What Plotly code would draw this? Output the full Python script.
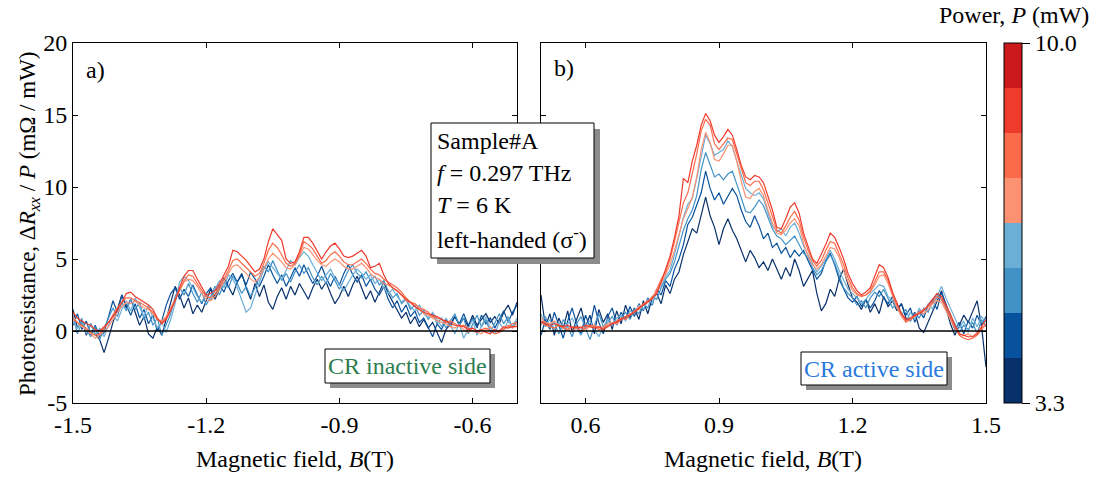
import plotly.graph_objects as go

# ---------------- data ----------------
B_left = [round(-1.50 + 0.01 * i, 2) for i in range(101)]
B_right = [round(0.50 + 0.01 * i, 2) for i in range(101)]

line_colors = ["#08306b", "#08519c", "#4292c6", "#6baed6", "#fc9272", "#fb6a4a", "#ef3b2c"]
cbar_colors = ["#08306b", "#08519c", "#4292c6", "#6baed6", "#fc9272", "#fb6a4a", "#ef3b2c", "#cb181d"]
P_min, P_max = 3.3, 10.0

# panel a) CR inactive side, traces from lowest to highest power
left_navy = [1.5, 0.2, 0.8, -0.3, 0.5, -0.2, -0.6, -1.5, -0.5, 0.6, 1.5, 2.5, 1.6, 2.2, 1.3, 0.4, 1.0, -0.2, -0.5, 0.3,
             -0.3, 0.8, 2.0, 3.1, 2.5, 1.6, 2.3, 1.2, 1.8, 1.3, 2.1, 2.9, 2.2, 3.0, 3.7, 3.1, 2.5, 3.4, 4.0, 3.0,
             2.2, 3.3, 2.4, 3.2, 2.0, 1.5, 2.4, 3.0, 2.2, 3.1, 2.5, 3.3, 2.7, 2.2, 3.0, 3.6, 2.9, 3.4, 2.6, 1.9,
             2.4, 3.1, 2.4, 3.2, 3.8, 3.0, 2.2, 2.8, 2.0, 2.7, 3.4, 2.6, 2.0, 1.4, 0.9, 1.3, 0.5, 1.0, 0.3, 0.8,
             0.2, 0.6, -0.1, -0.8, 0.1, 0.5, 1.0, 0.4, 0.9, 0.3, 1.1, 0.4, 0.8, 1.2, 0.6, 1.0, 0.5, 1.3, 1.8, 1.1,
             2.0]
left_blue = [0.4, 1.2, 0.1, 0.7, -0.3, 0.4, -0.4, -0.1, 1.0, 2.1, 1.3, 2.5, 1.8, 1.1, 1.9, 0.9, 1.5, 0.5, 1.1, 0.0,
             0.7, 1.8, 2.6, 3.0, 2.2, 2.9, 2.4, 3.2, 2.5, 1.9, 2.6, 3.0, 2.4, 3.2, 2.7, 3.5, 4.0, 3.4, 3.9, 3.2,
             4.1, 3.6, 3.1, 3.8, 4.6, 3.9, 3.3, 3.9, 3.1, 3.7, 4.4, 3.8, 4.6, 3.9, 3.3, 3.8, 4.5, 3.7, 3.1, 3.8,
             3.2, 4.0, 4.6, 3.9, 3.4, 3.9, 3.1, 3.6, 2.9, 2.5, 3.1, 2.2, 1.6, 2.1, 1.3, 1.8, 1.0, 1.4, 0.6, 0.9,
             0.2, -0.4, 0.5, 0.1, 0.8, 0.3, 1.0, 0.5, 1.2, 0.4, 0.9, 0.2, 1.1, 0.5, 0.9, 0.2, 0.8, 1.4, 0.6, 1.3,
             1.8]
left_midblue = [1.1, -0.2, 0.6, 0.1, -0.4, 0.3, -0.6, 0.2, 0.9, 1.6, 1.0, 2.0, 1.4, 2.2, 1.5, 2.0, 0.8, 1.3, 0.4, 0.9,
                -0.3, 0.5, 1.2, 2.4, 3.0, 2.5, 3.3, 2.6, 2.0, 2.7, 1.8, 2.4, 3.1, 2.5, 3.4, 3.0, 3.8, 3.3, 2.6, 3.1,
                2.4, 3.0, 3.7, 4.5, 4.1, 4.9, 4.2, 3.5, 4.0, 3.4, 4.1, 4.6, 4.0, 4.4, 3.7, 3.2, 3.8, 3.3, 4.0, 3.5,
                2.9, 3.6, 4.2, 4.6, 4.0, 3.7, 4.1, 3.5, 3.8, 3.2, 3.5, 2.8, 2.3, 2.6, 1.9, 2.2, 1.5, 1.8, 1.1, 1.4,
                0.8, 1.2, 0.5, 0.9, 0.2, 0.7, 1.2, 0.4, 0.9, -0.2, 0.5, 1.1, 0.3, 0.8, -0.1, 0.6, 1.2, 0.5, 1.0, 0.2,
                0.7]
left_lightblue = [0.6, 0.2, 0.9, -0.2, 0.5, -0.3, 0.2, -0.4, 0.4, 1.1, 0.7, 1.5, 2.1, 1.4, 2.3, 1.6, 1.0, 1.8, 0.9, 0.2,
                  0.6, -0.1, 0.8, 1.9, 3.4, 3.8, 3.5, 3.0, 2.4, 2.0, 2.6, 2.1, 2.9, 3.5, 3.0, 3.9, 3.6, 3.0, 2.2, 1.3,
                  1.6, 2.5, 3.4, 4.3, 4.8, 4.4, 4.0, 3.6, 4.2, 4.9, 4.6, 5.1, 5.5, 5.2, 4.6, 4.0, 3.5, 3.9, 4.3, 3.7,
                  3.2, 2.8, 3.4, 3.9, 4.3, 4.0, 3.6, 3.9, 3.3, 3.6, 3.0, 2.6, 2.9, 2.4, 2.0, 2.3, 1.7, 1.4, 1.8, 1.2,
                  0.9, 1.3, 0.8, 0.3, 0.9, 0.4, -0.2, 0.5, -0.5, 0.2, 0.8, -0.3, 0.4, 1.0, 0.2, -0.2, 0.6, 0.1, 0.7, 0.3,
                  0.9]
left_salmon = [1.0, 0.6, 0.3, 0.1, -0.2, -0.5, -0.3, 0.0, 0.3, 0.8, 1.3, 1.7, 2.0, 1.9, 2.1, 1.8, 1.6, 1.5, 1.2, 0.8,
               0.7, 1.0, 1.6, 2.3, 2.9, 3.4, 3.6, 3.5, 3.1, 2.6, 2.2, 2.1, 2.4, 2.9, 3.4, 4.0, 4.5, 4.6, 4.3, 4.0,
               3.6, 3.4, 3.7, 4.4, 5.0, 5.4, 5.1, 4.8, 4.4, 4.3, 4.6, 5.2, 5.8, 5.7, 5.3, 4.9, 4.6, 4.5, 4.8, 5.0,
               4.8, 4.5, 4.3, 4.3, 4.5, 4.7, 4.4, 4.0, 3.7, 3.6, 3.3, 3.2, 3.0, 2.8, 2.5, 2.1, 2.0, 1.7, 1.5, 1.2,
               1.1, 0.9, 0.7, 0.6, 0.5, 0.3, 0.2, 0.4, 0.1, -0.1, 0.2, 0.0, -0.2, 0.1, 0.3, 0.0, -0.1, 0.2, 0.4, 0.2,
               0.5]
left_orange = [0.8, 0.6, 0.4, 0.2, -0.1, -0.3, -0.2, 0.2, 0.6, 1.1, 1.6, 2.0, 2.3, 2.3, 2.1, 2.0, 1.8, 1.6, 1.3, 0.8,
               0.6, 0.9, 1.5, 2.2, 2.9, 3.5, 3.9, 3.8, 3.3, 2.8, 2.4, 2.3, 2.6, 3.1, 3.6, 4.2, 4.9, 5.0, 4.7, 4.4,
               4.1, 3.8, 4.0, 4.7, 5.6, 6.1, 5.8, 5.3, 4.7, 4.5, 4.7, 5.3, 6.2, 6.0, 5.7, 5.2, 4.7, 4.9, 5.3, 5.5,
               5.2, 4.8, 4.6, 4.6, 4.8, 5.0, 4.7, 4.3, 4.0, 3.9, 3.6, 3.4, 3.2, 3.0, 2.7, 2.3, 2.0, 1.9, 1.6, 1.5,
               1.3, 1.0, 0.9, 0.8, 0.6, 0.7, 0.5, 0.3, 0.4, 0.2, 0.0, -0.1, 0.1, 0.2, 0.0, -0.2, -0.1, 0.1, 0.3, 0.5,
               0.6]
left_red = [1.3, 0.9, 0.7, 0.5, 0.4, 0.1, 0.0, 0.3, 0.6, 1.0, 1.5, 2.0, 2.6, 2.7, 2.4, 2.2, 2.0, 1.8, 1.5, 0.9,
            0.5, 0.8, 1.4, 2.1, 3.0, 3.8, 4.2, 4.2, 3.6, 3.0, 2.5, 2.6, 2.8, 3.3, 3.9, 4.5, 5.6, 5.5, 5.2, 4.9,
            4.5, 4.1, 4.3, 5.0, 6.2, 7.1, 6.7, 6.3, 5.0, 4.7, 4.8, 5.5, 6.5, 6.5, 6.1, 5.5, 5.0, 5.5, 5.9, 6.1,
            5.7, 5.2, 5.1, 5.2, 5.4, 5.6, 5.2, 4.4, 4.5, 4.7, 3.9, 3.3, 3.0, 2.8, 2.5, 2.2, 2.0, 1.7, 1.5, 1.3,
            1.2, 1.1, 1.0, 0.8, 0.7, 0.5, 0.4, 0.4, 0.3, 0.1, 0.2, 0.0, 0.1, -0.1, -0.2, 0.1, 0.0, 0.3, 0.2, 0.3,
            0.3]

# panel b) CR active side
right_navy = [2.5, 0.3, 1.2, -0.3, 0.9, 0.2, 1.4, -0.1, 0.8, 1.6, 0.3, 1.1, -0.2, 1.5, 0.6, 1.2, 0.1, 1.4, 0.5, 1.8,
              0.9, 1.6, 0.8, 2.1, 1.2, 2.3, 2.6, 1.9, 3.2, 2.6, 3.6, 4.1, 5.3, 6.2, 7.1, 6.8, 8.0, 9.3, 8.0, 7.2,
              6.0, 7.1, 7.8, 7.0, 6.4, 5.6, 4.8, 5.6, 5.1, 4.4, 4.8, 4.2, 5.0, 4.3, 3.6, 4.4, 3.8, 5.0, 4.2, 3.1,
              3.7, 4.2, 2.6, 1.4, 1.9, 2.9, 2.4, 3.6, 4.3, 3.2, 2.3, 2.0, 1.5, 2.2, 1.3, 1.9, 1.2, 2.4, 1.7, 2.1,
              1.4, 1.9, 0.9, 0.7, 1.3, 0.2, -0.1, 0.6, 1.4, 2.1, 2.8, 1.6, 0.5, -0.3, 0.4, 1.1, 0.6, 1.3, 2.1, 0.3,
              -2.5]
right_blue = [-0.3, 0.8, 0.1, 1.3, 0.4, -0.5, 0.7, 1.6, 0.5, -0.2, 1.1, 0.3, 1.8, 0.6, -0.2, 1.0, 1.6, 0.5, 1.3, 0.8,
              1.7, 1.0, 1.9, 1.4, 2.3, 1.8, 2.9, 2.5, 3.5, 3.1, 4.3, 5.0, 6.0, 7.4, 7.9, 8.8, 9.6, 11.1, 9.9, 9.1,
              9.6, 8.8, 9.4, 9.9, 9.4, 8.4, 7.6, 7.2, 8.0, 7.3, 6.4, 6.8, 5.8, 6.1, 5.4, 5.8, 5.1, 5.6, 5.2, 5.6,
              4.9, 4.3, 3.6, 4.0, 4.9, 5.4, 4.6, 3.6, 3.0, 2.3, 2.0, 2.4, 1.7, 2.2, 1.6, 2.1, 2.8, 2.3, 1.9, 2.4,
              1.5, 1.9, 1.1, 1.6, 0.6, 1.4, 0.9, 1.8, 2.2, 1.5, 2.7, 1.9, 0.9, 0.1, 0.6, -0.2, 0.7, 0.2, 1.1, 0.4,
              1.0]
right_midblue = [0.4, 1.0, 0.2, 0.6, -0.2, 0.8, 0.3, -0.4, 0.5, 1.0, 0.2, -0.6, 0.4, 1.2, 0.3, 0.6, 1.0, 0.4, 0.9, 1.3,
                 0.8, 1.5, 1.2, 1.9, 1.6, 2.4, 2.2, 3.0, 3.6, 4.0, 4.8, 5.9, 7.0, 7.8, 8.4, 9.4, 11.2, 12.4, 11.6, 10.7,
                 10.9, 10.5, 10.9, 11.1, 10.2, 9.2, 8.3, 8.2, 8.6, 9.1, 8.7, 7.9, 7.1, 6.6, 6.4, 6.0, 6.3, 6.6, 6.0, 5.4,
                 5.1, 4.4, 3.9, 4.2, 4.8, 5.3, 4.7, 3.8, 3.0, 2.6, 2.3, 1.8, 2.1, 1.6, 2.3, 2.7, 2.4, 2.9, 2.2, 1.6,
                 1.9, 1.1, 1.5, 0.7, 1.2, 0.9, 1.6, 1.3, 2.1, 2.6, 2.2, 1.7, 1.0, 0.5, -0.1, 0.4, 0.1, 0.6, -0.2, 0.8,
                 0.3]
right_lightblue = [1.2, 0.3, 0.8, 0.1, 0.6, -0.1, 0.5, 0.9, 0.2, -0.3, 0.4, 0.7, 0.1, -0.4, 0.3, 0.8, 0.4, 0.9, 1.1, 0.7,
                   1.4, 1.2, 1.8, 1.5, 2.2, 1.9, 2.8, 3.1, 3.8, 4.2, 5.3, 6.6, 7.9, 8.8, 9.2, 10.6, 12.1, 13.6, 13.0, 12.2,
                   12.4, 12.6, 13.2, 12.8, 11.8, 10.9, 9.9, 9.6, 9.4, 9.6, 9.2, 8.2, 7.3, 6.9, 7.1, 6.6, 7.2, 7.5, 6.8, 5.9,
                   5.3, 4.6, 4.1, 4.5, 5.0, 5.6, 5.0, 4.2, 3.6, 2.9, 2.6, 2.3, 1.9, 2.2, 2.6, 2.9, 3.2, 3.1, 2.4, 2.1,
                   1.6, 1.3, 0.6, 1.3, 0.8, 1.6, 1.1, 1.9, 1.5, 2.4, 3.1, 2.3, 1.6, 0.8, 0.2, 0.7, -0.1, 0.9, 0.3, 1.0,
                   0.6]
right_salmon = [0.9, 0.6, 0.5, 0.7, 0.4, 0.3, 0.1, 0.0, 0.2, 0.3, 0.1, 0.3, 0.4, 0.2, 0.3, 0.5, 0.6, 0.5, 0.8, 1.0,
                1.2, 1.3, 1.7, 1.8, 2.0, 2.4, 2.7, 3.3, 3.9, 4.6, 5.6, 6.8, 7.8, 8.5, 9.3, 10.7, 12.6, 13.8, 13.1, 11.9,
                11.8, 12.3, 12.9, 12.9, 11.8, 10.4, 9.3, 9.2, 9.7, 9.9, 9.4, 8.4, 7.5, 6.8, 6.7, 7.0, 7.5, 7.8, 7.3, 6.1,
                5.2, 4.6, 4.3, 4.6, 5.2, 5.8, 5.7, 5.1, 4.2, 3.4, 2.8, 2.5, 2.4, 2.5, 2.7, 3.2, 3.8, 3.9, 3.3, 2.4,
                1.6, 1.0, 0.6, 0.8, 1.1, 1.3, 1.2, 1.5, 1.9, 2.1, 2.0, 1.4, 0.8, 0.2, -0.2, -0.3, -0.2, -0.4, -0.1, 0.2,
                0.4]
right_orange = [0.6, 0.4, 0.3, 0.2, 0.4, 0.2, 0.1, 0.3, 0.2, 0.0, 0.2, 0.4, 0.3, 0.1, 0.2, 0.4, 0.5, 0.7, 0.9, 0.8,
                1.1, 1.4, 1.5, 1.9, 2.1, 2.2, 2.9, 3.6, 4.1, 5.0, 6.2, 7.5, 8.9, 9.6, 10.9, 12.3, 13.9, 14.7, 14.3, 13.0,
                12.6, 13.0, 13.4, 13.3, 12.3, 11.2, 10.3, 10.1, 10.4, 10.4, 9.8, 8.9, 7.9, 7.0, 6.8, 7.3, 7.9, 8.3, 7.7, 6.5,
                5.6, 4.9, 4.5, 4.9, 5.6, 6.2, 6.1, 5.4, 4.6, 3.7, 3.0, 2.6, 2.4, 2.5, 2.8, 3.4, 4.1, 4.1, 3.5, 2.6,
                1.8, 1.2, 0.7, 0.8, 1.0, 1.3, 1.5, 1.7, 2.0, 2.4, 2.2, 1.6, 1.0, 0.3, -0.3, -0.5, -0.6, -0.5, -0.3, 0.1,
                0.5]
right_red = [0.7, 0.5, 0.4, 0.5, 0.4, 0.3, 0.4, 0.2, 0.3, 0.2, 0.4, 0.3, 0.2, 0.3, 0.1, 0.3, 0.5, 0.6, 0.8, 1.0,
             1.1, 1.3, 1.6, 1.8, 2.0, 2.3, 2.6, 3.4, 4.3, 5.2, 6.5, 8.0, 10.6, 10.3, 11.8, 12.9, 14.3, 15.1, 14.6, 13.6,
             13.1, 13.5, 14.0, 13.6, 12.6, 11.5, 10.7, 10.5, 10.8, 10.7, 10.3, 9.4, 8.4, 7.2, 7.1, 7.8, 8.6, 8.9, 8.2, 6.8,
             5.9, 5.0, 4.7, 5.3, 6.0, 6.8, 6.5, 5.8, 5.0, 4.0, 3.3, 2.8, 2.5, 2.7, 3.0, 3.8, 4.6, 4.4, 3.7, 2.7,
             1.9, 1.2, 0.8, 0.9, 1.1, 1.2, 1.4, 1.8, 2.2, 2.6, 2.4, 1.8, 1.2, 0.4, -0.2, -0.3, -0.4, -0.4, -0.2, 0.3,
             0.8]

left_series = [left_navy, left_blue, left_midblue, left_lightblue, left_salmon, left_orange, left_red]
right_series = [right_navy, right_blue, right_midblue, right_lightblue, right_salmon, right_orange, right_red]

x_left_ticks = [-1.5, -1.2, -0.9, -0.6]
x_left_ticktext = ["-1.5", "-1.2", "-0.9", "-0.6"]
x_right_ticks = [0.6, 0.9, 1.2, 1.5]
x_right_ticktext = ["0.6", "0.9", "1.2", "1.5"]
y_ticks = [-5, 0, 5, 10, 15, 20]
y_ticktext = ["-5", "0", "5", "10", "15", "20"]

info_lines = ["Sample#A", "<i>f</i> = 0.297 THz", "<i>T</i> = 6 K", "left-handed (σ<sup>-</sup>)"]

# ---------------- geometry ----------------
W, H = 1098, 479
ML, MR, MT, MB = 73, 112, 43, 76
PW, PH = W - ML - MR, H - MT - MB
FONT = "Liberation Serif, Times New Roman, Times, serif"
FS = 24


def fx(p):
    return (p - ML) / PW


def fy(p):
    return (H - MB - p) / PH


fig = go.Figure()

for ser, col in zip(left_series, line_colors):
    fig.add_trace(go.Scatter(x=B_left, y=ser, mode="lines", line=dict(color=col, width=1.2),
                             xaxis="x", yaxis="y", showlegend=False, hoverinfo="skip"))
for ser, col in zip(right_series, line_colors):
    fig.add_trace(go.Scatter(x=B_right, y=ser, mode="lines", line=dict(color=col, width=1.2),
                             xaxis="x2", yaxis="y2", showlegend=False, hoverinfo="skip"))

# discrete colorbar
nb = len(cbar_colors)
cscale = []
for i, c in enumerate(cbar_colors):
    cscale.append([i / nb, c])
    cscale.append([(i + 1) / nb, c])
fig.add_trace(go.Scatter(
    x=[None], y=[None], mode="markers", xaxis="x2", yaxis="y2", showlegend=False, hoverinfo="skip",
    marker=dict(color=[P_min], cmin=P_min, cmax=P_max, colorscale=cscale, showscale=True,
                colorbar=dict(x=fx(1004), xanchor="left", xref="paper", y=0.5, yanchor="middle",
                              len=1, lenmode="fraction", thickness=18, thicknessmode="pixels",
                              outlinewidth=1, outlinecolor="black",
                              tickvals=[P_min, P_max], ticktext=["3.3", "10.0"],
                              ticks="outside", ticklen=8, tickwidth=1, tickcolor="black",
                              tickfont=dict(family=FONT, size=FS, color="black"),
                              xpad=0, ypad=0))))

axis_common = dict(showline=True, linecolor="black", linewidth=1, mirror="ticks", ticks="inside",
                   ticklen=5, tickwidth=1, tickcolor="black", showgrid=False, zeroline=False,
                   tickfont=dict(family=FONT, size=FS, color="black"))

fig.update_layout(
    width=W, height=H, margin=dict(l=ML, r=MR, t=MT, b=MB, pad=0),
    paper_bgcolor="white", plot_bgcolor="white",
    font=dict(family=FONT, size=FS, color="black"),
    xaxis=dict(domain=[0, fx(517)], range=[-1.5, -0.5], tickvals=x_left_ticks, ticktext=x_left_ticktext,
               anchor="y", **axis_common),
    xaxis2=dict(domain=[fx(541), 1], range=[0.5, 1.5], tickvals=x_right_ticks, ticktext=x_right_ticktext,
                anchor="y2", **axis_common),
    yaxis=dict(domain=[0, 1], range=[-5, 20], tickvals=y_ticks, ticktext=y_ticktext, anchor="x", **axis_common),
    yaxis2=dict(domain=[0, 1], range=[-5, 20], tickvals=y_ticks, showticklabels=False, anchor="x2", **axis_common),
)

shapes = []
# zero lines
shapes.append(dict(type="line", xref="x", yref="y", x0=-1.5, x1=-0.5, y0=0, y1=0,
                   line=dict(color="black", width=1.5), layer="above"))
shapes.append(dict(type="line", xref="x2", yref="y2", x0=0.5, x1=1.5, y0=0, y1=0,
                   line=dict(color="black", width=1.5), layer="above"))


def shadow_box(x0, y0, x1, y1, off):
    shapes.append(dict(type="rect", xref="paper", yref="paper", x0=fx(x0 + off), x1=fx(x1 + off),
                       y0=fy(y1 + off), y1=fy(y0 + off), fillcolor="#8c8c8c", line=dict(width=0), layer="above"))
    shapes.append(dict(type="rect", xref="paper", yref="paper", x0=fx(x0), x1=fx(x1),
                       y0=fy(y1), y1=fy(y0), fillcolor="white", line=dict(color="black", width=1), layer="above"))


shadow_box(431, 123, 594, 258, 6)
shadow_box(325, 349, 490, 383, 5)
shadow_box(801, 352, 947, 385, 5)
fig.update_layout(shapes=shapes)


def txt_ann(text, xp, yp, xanchor="center", color="black", size=FS, angle=0):
    return dict(text=text, x=fx(xp), y=fy(yp), xref="paper", yref="paper", showarrow=False,
                xanchor=xanchor, yanchor="middle", textangle=angle,
                font=dict(family=FONT, size=size, color=color))


ann = []
for t, yc in zip(info_lines, [141, 173, 205, 238]):
    ann.append(txt_ann(t, 435, yc, xanchor="left"))
ann.append(txt_ann("CR inactive side", 407.5, 366, color="#2e7d50"))
ann.append(txt_ann("CR active side", 874, 368.5, color="#2a7ade"))
ann.append(txt_ann("a)", 84, 70, xanchor="left"))
ann.append(txt_ann("b)", 552, 68, xanchor="left"))
for xc in [295, 763]:
    ann.append(txt_ann("Magnetic field, <i>B</i>(T)", xc, 459))
ann.append(txt_ann("Photoresistance, Δ<i>R</i><sub><i>xx</i></sub> / <i>P</i> (mΩ / mW)", 29, 224, angle=-90,
                   size=23))
ann.append(txt_ann("Power, <i>P</i> (mW)", 1091, 15, xanchor="right"))
fig.update_layout(annotations=ann)

fig.write_html("out.html")
